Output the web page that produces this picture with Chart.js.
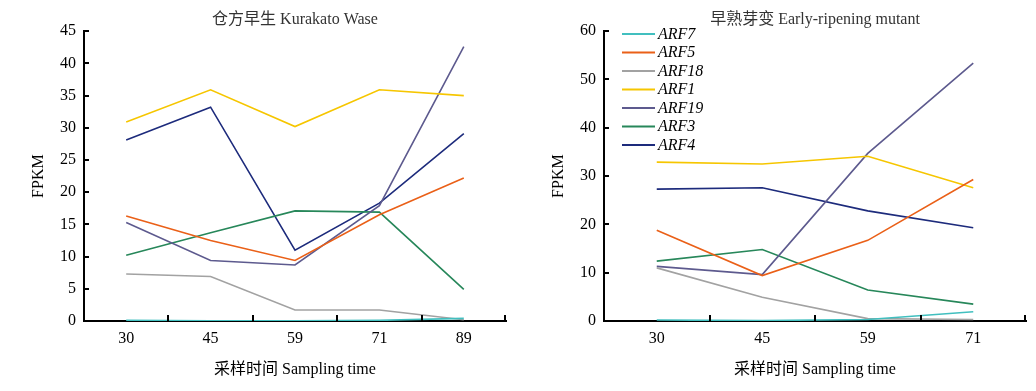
<!DOCTYPE html>
<html>
<head>
<meta charset="utf-8">
<script src="https://cdn.jsdelivr.net/npm/chart.js@4.4.1/dist/chart.umd.min.js"></script>
<style>
  html, body { margin: 0; padding: 0; background: #fff; }
  #wrap { position: relative; width: 1036px; height: 391px; }
  #left  { position: absolute; left: 0;     top: 0; }
  #right { position: absolute; left: 520px; top: 0; }
</style>
</head>
<body>
<div id="wrap">
  <canvas id="left"  width="520" height="391"></canvas>
  <canvas id="right" width="516" height="391"></canvas>
</div>
<script>
// ── Data ───────────────────────────────────────────────────
const genes = ['ARF7', 'ARF5', 'ARF18', 'ARF1', 'ARF19', 'ARF3', 'ARF4'];
const geneColors = ['#41bfbf', '#ea6018', '#a2a2a2', '#f6c600', '#5d5a8e', '#27875a', '#1d2b7c'];

// 仓方早生 Kurakato Wase
const daysKW = ['30', '45', '59', '71', '89'];
const kwARF7  = [0.1, 0.05, 0.05, 0.1, 0.4];
const kwARF5  = [16.3, 12.5, 9.4, 16.5, 22.2];
const kwARF18 = [7.3, 6.9, 1.7, 1.7, 0.2];
const kwARF1  = [30.9, 35.9, 30.2, 35.9, 35.0];
const kwARF19 = [15.3, 9.4, 8.7, 17.9, 42.6];
const kwARF3  = [10.2, 13.7, 17.1, 16.9, 4.9];
const kwARF4  = [28.1, 33.2, 11.0, 18.3, 29.1];

// 早熟芽变 Early-ripening mutant
const daysER = ['30', '45', '59', '71'];
const erARF7  = [0.2, 0.1, 0.3, 1.9];
const erARF5  = [18.8, 9.4, 16.7, 29.3];
const erARF18 = [11.0, 4.9, 0.5, 0.3];
const erARF1  = [32.9, 32.5, 34.1, 27.6];
const erARF19 = [11.3, 9.6, 34.7, 53.4];
const erARF3  = [12.4, 14.8, 6.4, 3.5];
const erARF4  = [27.3, 27.6, 22.8, 19.3];

const kwSeries = [kwARF7, kwARF5, kwARF18, kwARF1, kwARF19, kwARF3, kwARF4];
const erSeries = [erARF7, erARF5, erARF18, erARF1, erARF19, erARF3, erARF4];

// ── Styling helpers ────────────────────────────────────────
const SERIF = "'Liberation Serif', 'Times New Roman', 'Noto Sans CJK SC', serif";

function makeDatasets(series) {
  return series.map((vals, i) => ({
    label: genes[i],
    data: vals,
    borderColor: geneColors[i],
    backgroundColor: geneColors[i],
    borderWidth: 1.6,
    pointRadius: 0,
    tension: 0,
    fill: false,
  }));
}

// inward tick marks on both axes
const inwardTicks = {
  id: 'inwardTicks',
  afterDraw(chart) {
    const { ctx, chartArea: a, scales: { x, y } } = chart;
    ctx.save();
    ctx.strokeStyle = '#000';
    ctx.lineWidth = 2;
    ctx.beginPath();
    y.ticks.forEach(t => {
      const py = Math.round(y.getPixelForValue(t.value));
      ctx.moveTo(a.left, py);
      ctx.lineTo(a.left + 5, py);
    });
    const n = x.ticks.length;
    for (let i = 0; i < n; i++) {
      // boundary between category i and i+1; last one sits at the axis end
      const bx = i < n - 1 ? (x.getPixelForValue(i) + x.getPixelForValue(i + 1)) / 2 : a.right - 1;
      ctx.moveTo(Math.round(bx), a.bottom);
      ctx.lineTo(Math.round(bx), a.bottom - 6);
    }
    ctx.stroke();
    ctx.restore();
  }
};

// italic legend inside the plot (right panel only)
const innerLegend = {
  id: 'innerLegend',
  afterDraw(chart, args, opts) {
    if (!opts.show) return;
    const { ctx } = chart;
    ctx.save();
    ctx.font = 'italic 16px ' + SERIF;
    ctx.textBaseline = 'middle';
    ctx.fillStyle = '#000';
    chart.data.datasets.forEach((ds, i) => {
      const yy = 34 + i * 18.5;
      ctx.strokeStyle = ds.borderColor;
      ctx.lineWidth = 2;
      ctx.beginPath();
      ctx.moveTo(102, yy);
      ctx.lineTo(135, yy);
      ctx.stroke();
      ctx.fillText(ds.label, 138, yy + 0.5);
    });
    ctx.restore();
  }
};

function makeChart(id, titleText, days, series, yMax, yStep, rightPad, showLegend) {
  return new Chart(document.getElementById(id), {
    type: 'line',
    data: { labels: days, datasets: makeDatasets(series) },
    plugins: [inwardTicks, innerLegend],
    options: {
      responsive: false,
      animation: false,
      layout: { padding: { left: 0, right: rightPad, top: 0, bottom: 0 } },
      plugins: {
        legend: { display: false },
        tooltip: { enabled: false },
        innerLegend: { show: showLegend },
        title: {
          display: true,
          text: titleText,
          fullSize: false,
          color: '#333',
          font: { family: SERIF, size: 16, weight: 'normal' },
          padding: { top: 10, bottom: 2 },
        },
      },
      scales: {
        x: {
          type: 'category',
          offset: true,
          grid: { display: false, drawTicks: false },
          border: { display: true, color: '#000', width: 2 },
          ticks: { color: '#000', font: { family: SERIF, size: 16 }, padding: 8, maxRotation: 0 },
          title: {
            display: true,
            text: '采样时间 Sampling time',
            color: '#000',
            font: { family: SERIF, size: 16 },
            padding: { top: 4, bottom: 12 },
          },
          afterFit(s) { s.height = 70; },
        },
        y: {
          min: 0,
          max: yMax,
          grid: { display: false, drawTicks: false },
          border: { display: true, color: '#000', width: 2 },
          ticks: { stepSize: yStep, color: '#000', font: { family: SERIF, size: 16 }, padding: 8 },
          title: {
            display: true,
            text: 'FPKM',
            color: '#000',
            font: { family: SERIF, size: 16 },
            padding: { top: 29, bottom: 0 },
          },
          afterFit(s) { s.width = 84; },
        },
      },
    },
  });
}

makeChart('left',  '仓方早生 Kurakato Wase',        daysKW, kwSeries, 45, 5, 14, false);
makeChart('right', '早熟芽变 Early-ripening mutant', daysER, erSeries, 60, 10, 10, true);
</script>
</body>
</html>
